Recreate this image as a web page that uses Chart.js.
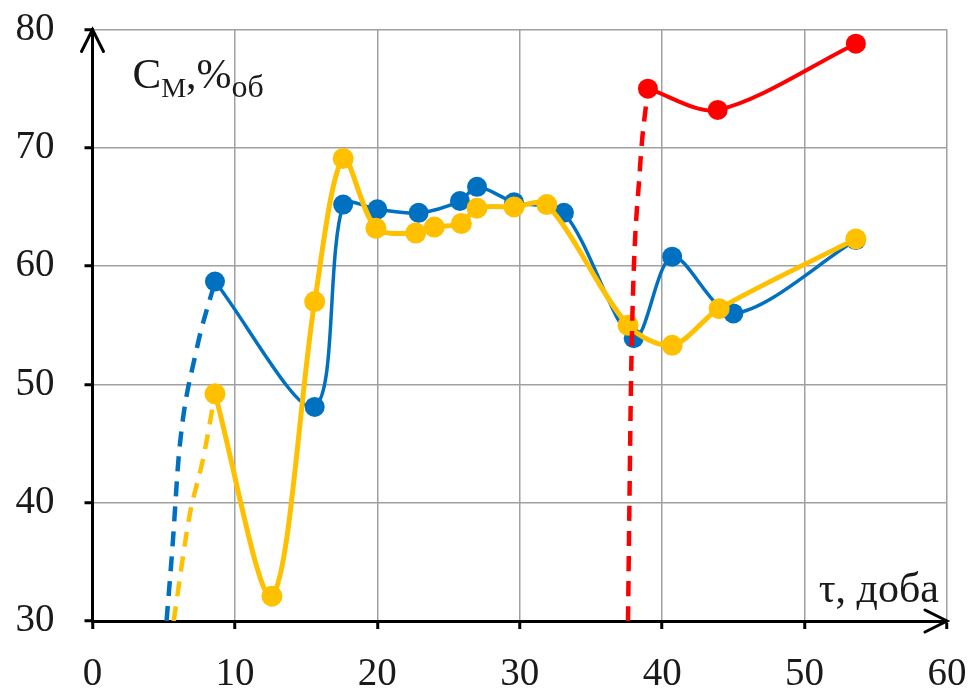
<!DOCTYPE html>
<html>
<head>
<meta charset="utf-8">
<script src="https://cdn.jsdelivr.net/npm/chart.js@4.4.1/dist/chart.umd.min.js"></script>
<style>
  html, body { margin: 0; padding: 0; background: #fff; }
  #wrap { width: 972px; height: 692px; position: relative; }
</style>
</head>
<body>
<div id="wrap"><canvas id="chart"></canvas></div>
<script>
const xTicks = [0, 10, 20, 30, 40, 50, 60];
const yTicks = [30, 40, 50, 60, 70, 80];

const blueX = [8.6, 15.6, 17.6, 20.0, 22.9, 25.8, 27.0, 29.6, 33.1, 38.0, 40.7, 45.0, 53.6];
const blueY = [58.7, 48.1, 65.2, 64.8, 64.5, 65.5, 66.7, 65.4, 64.5, 53.9, 60.8, 56.0, 62.2];
const blueDashX = [5.2, 5.6, 6.1, 7.3, 8.6];
const blueDashY = [30, 36, 44.5, 52.9, 58.7];

const yellowX = [8.6, 12.6, 15.6, 17.6, 19.9, 22.7, 24.0, 25.9, 27.0, 29.6, 31.9, 37.6, 40.7, 44.0, 53.6];
const yellowY = [49.2, 32.1, 57.0, 69.1, 63.2, 62.8, 63.3, 63.6, 64.9, 65.0, 65.2, 55.0, 53.3, 56.4, 62.3];
const yellowDashX = [5.7, 6.8, 7.8, 8.6];
const yellowDashY = [30, 38.8, 43.9, 49.2];

const redX = [39.0, 43.9, 53.6];
const redY = [75.0, 73.2, 78.8];
const redDashX = [37.6, 37.85, 38.45, 39.0];
const redDashY = [30, 52.6, 68.4, 75.0];

const BLUE = "#0070c0";
const YELLOW = "#ffc000";
const RED = "#ff0000";
const FONT = "'Liberation Serif', 'Times New Roman', serif";

function pts(xs, ys) {
  return xs.map((x, i) => ({ x: x, y: ys[i] }));
}

function solid(data, color, width, radius, order) {
  return {
    data: data, borderColor: color, backgroundColor: color,
    borderWidth: width, pointRadius: radius, pointHoverRadius: radius,
    pointBorderWidth: 0, tension: 0.3, order: order
  };
}

function dashed(data, color, width, order) {
  return {
    data: data, borderColor: color, borderWidth: width,
    borderDash: [15, 10], pointRadius: 0, pointHoverRadius: 0,
    cubicInterpolationMode: "monotone", order: order
  };
}

// keep tick labels from pushing the plot area inwards
function noPad(s) {
  s.paddingTop = 0; s.paddingBottom = 0; s.paddingLeft = 0; s.paddingRight = 0;
}

// arrows on the axes and the two axis captions
const axisExtras = {
  id: "axisExtras",
  afterDraw(chart) {
    const { ctx, chartArea: a } = chart;
    ctx.save();
    ctx.strokeStyle = "#000";
    ctx.lineWidth = 3;
    ctx.lineCap = "round";
    ctx.beginPath();
    ctx.moveTo(a.left - 11, a.top + 22);
    ctx.lineTo(a.left, a.top);
    ctx.lineTo(a.left + 11, a.top + 22);
    ctx.moveTo(a.right - 22, a.bottom - 11);
    ctx.lineTo(a.right, a.bottom);
    ctx.lineTo(a.right - 22, a.bottom + 11);
    ctx.stroke();

    ctx.fillStyle = "#1a1a1a";
    ctx.textBaseline = "alphabetic";
    ctx.textAlign = "left";
    let x = a.left + 40;
    const base = a.top + 58;
    ctx.font = "43px " + FONT;
    ctx.fillText("C", x, base);
    x += ctx.measureText("C").width;
    ctx.font = "28px " + FONT;
    ctx.fillText("М", x, base + 9);
    x += ctx.measureText("М").width;
    ctx.font = "42px " + FONT;
    ctx.fillText(",%", x, base);
    x += ctx.measureText(",%").width;
    ctx.font = "32px " + FONT;
    ctx.fillText("об", x, base + 9);

    ctx.font = "42px " + FONT;
    ctx.textAlign = "right";
    ctx.fillText("τ, доба", a.right - 8, a.bottom - 19);
    ctx.restore();
  }
};

new Chart(document.getElementById("chart"), {
  type: "line",
  data: {
    datasets: [
      solid(pts(redX, redY), RED, 4, 10, 0),
      dashed(pts(redDashX, redDashY), RED, 4.5, 0),
      solid(pts(yellowX, yellowY), YELLOW, 5, 10.5, 1),
      dashed(pts(yellowDashX, yellowDashY), YELLOW, 4.5, 1),
      solid(pts(blueX, blueY), BLUE, 3.5, 10, 2),
      dashed(pts(blueDashX, blueDashY), BLUE, 4.5, 2)
    ]
  },
  options: {
    responsive: true,
    maintainAspectRatio: false,
    animation: false,
    layout: { padding: { top: 29.5, right: 25, bottom: 0, left: 0 } },
    plugins: { legend: { display: false }, tooltip: { enabled: false } },
    scales: {
      x: {
        type: "linear",
        min: xTicks[0], max: xTicks[xTicks.length - 1],
        afterBuildTicks: s => { s.ticks = xTicks.map(v => ({ value: v })); },
        afterFit: s => { s.height = 71; noPad(s); },
        grid: { color: "#a0a0a0", lineWidth: 1.5, tickColor: "#000", tickLength: 8, tickWidth: 3 },
        border: { color: "#000", width: 3 },
        ticks: { padding: 22, color: "#1a1a1a", font: { family: FONT, size: 39 }, maxRotation: 0 }
      },
      y: {
        min: yTicks[0], max: yTicks[yTicks.length - 1],
        afterBuildTicks: s => { s.ticks = yTicks.map(v => ({ value: v })); },
        afterFit: s => { s.width = 92.5; noPad(s); },
        grid: { color: "#a0a0a0", lineWidth: 1.5, tickColor: "#000", tickLength: 8, tickWidth: 3 },
        border: { color: "#000", width: 3 },
        ticks: { padding: 30, color: "#1a1a1a", font: { family: FONT, size: 39 } }
      }
    }
  },
  plugins: [axisExtras]
});
</script>
</body>
</html>
